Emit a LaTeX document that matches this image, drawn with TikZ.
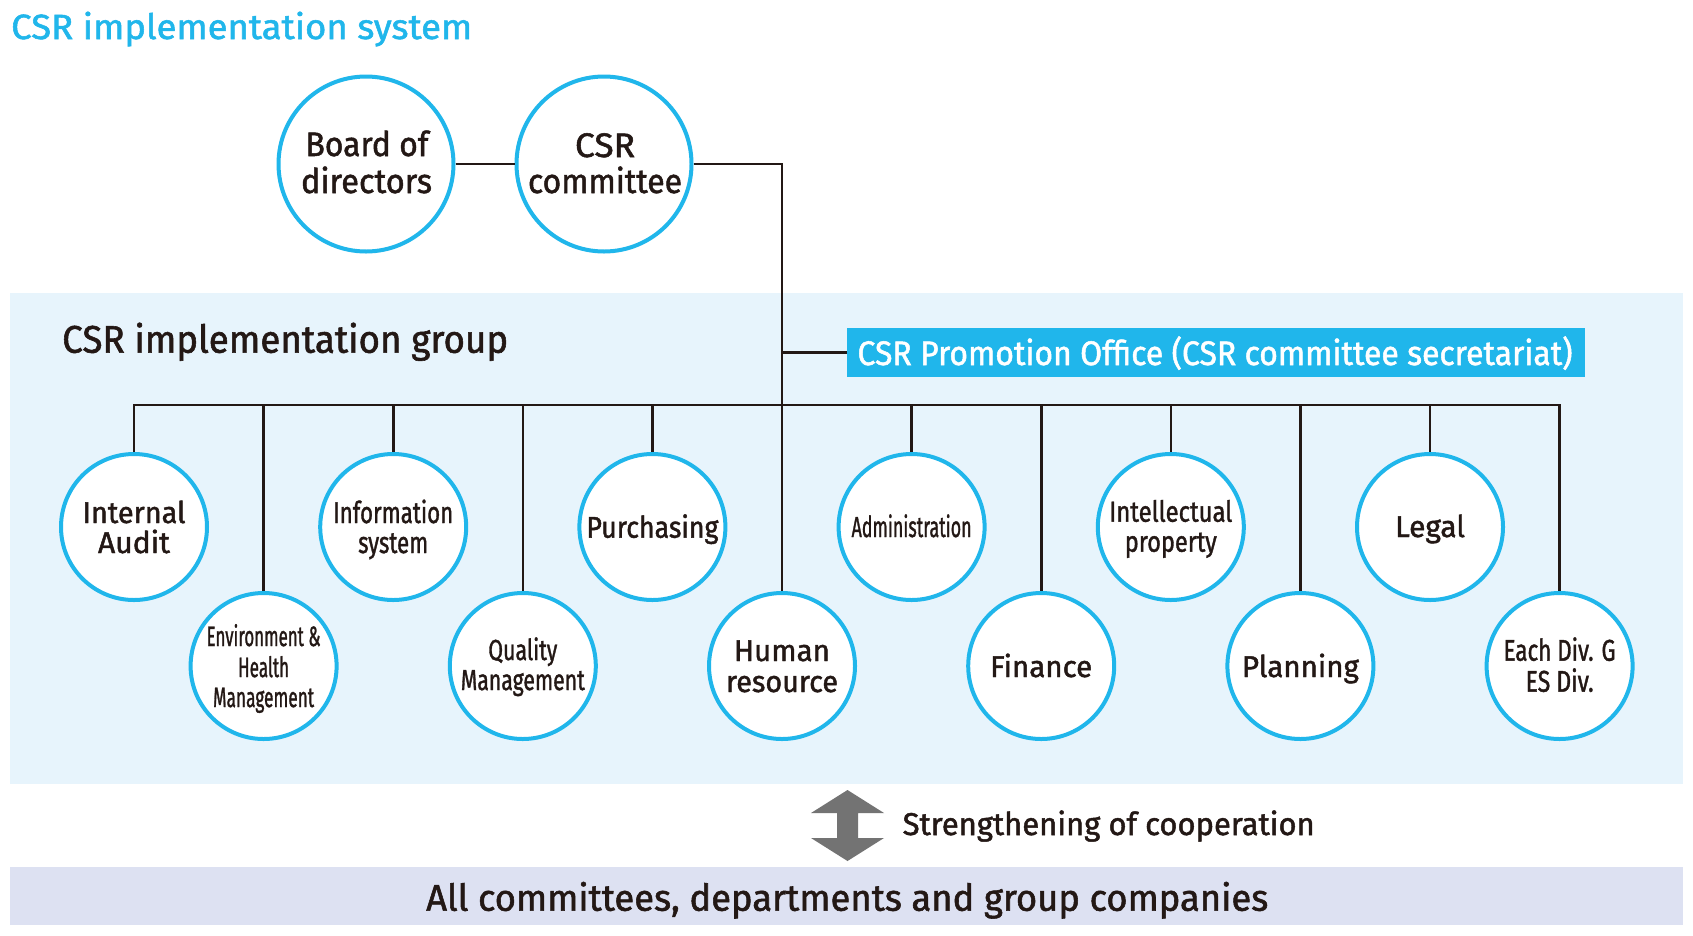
\documentclass[tikz,border=0pt]{standalone}
\usepackage{fontspec}
\setmainfont{Fira Sans}[FakeBold=1.5]
\usepackage{graphicx}
\definecolor{csrcyan}{RGB}{32,182,235}
\definecolor{band}{RGB}{231,244,252}
\definecolor{lav}{RGB}{221,225,242}
\definecolor{ink}{RGB}{35,24,21}
\definecolor{arrowgray}{RGB}{115,115,115}
\newcommand{\fw}[2]{\resizebox{#1pt}{\height}{#2}}
\newcommand{\mylbl}[5]{\node[lbl,font=\fontsize{#3}{#3}\selectfont] (#1) at (#2) {\fw{#4}{#5}};}
\begin{document}
\begin{tikzpicture}[x=1pt,y=-1pt,
  unit/.style={circle, draw=csrcyan, line width=4pt, fill=white, minimum size=146pt, inner sep=0pt},
  big/.style={circle, draw=csrcyan, line width=4pt, fill=white, minimum size=175pt, inner sep=0pt},
  conn/.style={draw=ink, line width=2.6pt},
  lbl/.style={anchor=base, inner sep=0pt, text=ink},
]
\useasboundingbox (0,0) rectangle (1693,935);
\fill[white] (0,0) rectangle (1693,935);
\fill[band] (10,293) rectangle (1683,784);
\fill[lav] (10,867) rectangle (1683,925);

% title
\node[anchor=base west, inner sep=0pt, text=csrcyan, font=\fontsize{35}{35}\selectfont] (title) at (11,39) {\fw{461}{CSR implementation system}};

% top circles
\node[big] (board) at (366,164) {};
\node[big] (comm) at (604,164) {};
\draw[conn] (board.east) -- (comm.west);

% unit circles
\node[unit] (ia) at (134,527) {};
\node[unit] (env) at (263.6,666) {};
\node[unit] (info) at (393.2,527) {};
\node[unit] (qual) at (522.8,666) {};
\node[unit] (purch) at (652.4,527) {};
\node[unit] (hr) at (782,666) {};
\node[unit] (adm) at (911.6,527) {};
\node[unit] (fin) at (1041.2,666) {};
\node[unit] (ip) at (1170.8,527) {};
\node[unit] (plan) at (1300.4,666) {};
\node[unit] (legal) at (1430,527) {};
\node[unit] (each) at (1559.6,666) {};

% promotion office
\node[fill=csrcyan, minimum width=738pt, minimum height=49pt, inner sep=0pt, anchor=north west] (office) at (847,328) {};
\node[anchor=base, inner sep=0pt, text=white, font=\fontsize{34}{34}\selectfont] (officetext) at (1215,365) {\fw{715}{CSR Promotion Office (CSR committee secretariat)}};

% connectors
\coordinate (bus) at (0,405);
\draw[conn] (comm.east) -| (hr.north);
\draw[conn] (office.west) -- (office.west -| hr.north);
\draw[conn] (ia.north) -- (ia.north |- bus) -- (each.north |- bus) -- (each.north);
\foreach \u in {env,info,qual,purch,adm,fin,ip,plan,legal}
  \draw[conn] (\u.north |- bus) -- (\u.north);

% labels
\mylbl{board1}{367,156}{34}{123}{Board of}
\mylbl{board2}{366.5,193}{34}{131}{directors}
\mylbl{comm1}{605,157}{34}{60}{CSR}
\mylbl{comm2}{605,193}{34}{154}{committee}

\mylbl{ia1}{134,523}{30}{103}{Internal}
\mylbl{ia2}{134,553}{30}{72}{Audit}
\mylbl{env1}{263.6,646}{28}{114}{Environment \&}
\mylbl{env2}{263.6,677}{28}{51}{Health}
\mylbl{env3}{263.6,707}{28}{101}{Management}
\mylbl{info1}{393.2,523}{30}{120}{Information}
\mylbl{info2}{393.2,553}{30}{70}{system}
\mylbl{qual1}{522.8,660}{29}{69}{Quality}
\mylbl{qual2}{522.8,690}{29}{124}{Management}
\mylbl{purch1}{652.4,537.7}{30}{132}{Purchasing}
\mylbl{hr1}{782,661}{30}{96}{Human}
\mylbl{hr2}{782,692}{30}{112}{resource}
\mylbl{adm1}{911.6,537}{29}{120}{Administration}
\mylbl{fin1}{1041.2,677}{30}{102}{Finance}
\mylbl{ip1}{1170.8,521.7}{29}{123}{Intellectual}
\mylbl{ip2}{1170.8,551.7}{29}{92}{property}
\mylbl{plan1}{1300.4,677}{30}{117}{Planning}
\mylbl{legal1}{1430,537}{30}{70}{Legal}
\mylbl{each1}{1559.6,660.7}{30}{112}{Each Div. G}
\mylbl{each2}{1559.6,691.7}{30}{68}{ES Div.}

% group label
\node[anchor=base west, inner sep=0pt, text=ink, font=\fontsize{38.5}{38.5}\selectfont] (group) at (62,352.7) {\fw{446}{CSR implementation group}};

% cooperation arrow
\fill[arrowgray] (847.5,790) -- (884,813) -- (858,813) -- (858,838) -- (884,838) -- (847.5,861) -- (811,838) -- (837,838) -- (837,813) -- (811,813) -- cycle;
\node[anchor=base west, inner sep=0pt, text=ink, font=\fontsize{31.5}{31.5}\selectfont] (coop) at (902.5,835) {\fw{412}{Strengthening of cooperation}};

% bottom
\node[anchor=base west, inner sep=0pt, text=ink, font=\fontsize{37}{37}\selectfont] (all) at (426,910.7) {\fw{842}{All committees, departments and group companies}};
\end{tikzpicture}
\end{document}
